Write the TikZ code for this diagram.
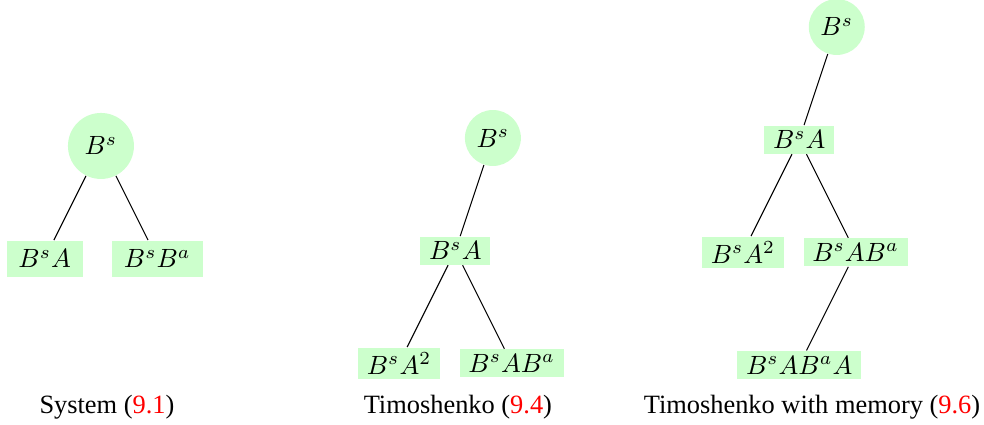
\documentclass[tikz,border=0pt]{standalone}
\usepackage[no-math]{fontspec}
\setmainfont{Liberation Serif}
\usetikzlibrary{positioning}
\begin{document}
\begin{tikzpicture}[node distance = 1.5cm and 0.75cm, on grid,
	root/.style={circle, fill=green!20, minimum size=21.2pt, inner sep=0pt},
	leaf/.style={rectangle, fill=green!20, inner xsep=3.3pt, inner ysep=1.9pt},
	bigroot/.style={root, minimum size=25pt},
	bigleaf/.style={leaf, inner xsep=4.5pt, inner ysep=3.4pt},
	caption/.style={anchor=base}]
	\useasboundingbox (0,0) rectangle (13.1,-5.657);
	% Place nodes
	\node [bigroot] (r1) at (1.344,-1.943) {$B^s$};
	\node [bigleaf, below left=of r1] (a1) {$B^sA$};
	\node [bigleaf, below right=of r1] (b1) {$B^sB^a$};
	\node [root] (r2) at (6.562,-1.837) {$B^s$};
	\node [leaf, below left=1.5cm and 0.5cm of r2] (a2) {$B^sA$};
	\node [leaf, below left=of a2] (b2) {$B^sA^2$};
	\node [leaf, below right=of a2] (c2) {$B^sAB^a$};
	\node [root] (r3) at (11.14,-0.359) {$B^s$};
	\node [leaf, below left=1.5cm and 0.5cm of r3] (a3) {$B^sA$};
	\node [leaf, below left=of a3] (b3) {$B^sA^2$};
	\node [leaf, below right=of a3] (c3) {$B^sAB^a$};
	\node [leaf, below left=of c3] (d3) {$B^sAB^aA$};
	% Captions
	\node [caption] (cap1) at (1.424,-5.51) {System (\textcolor{red}{9.1})};
	\node [caption] (cap2) at (6.096,-5.51) {Timoshenko (\textcolor{red}{9.4})};
	\node [caption] (cap3) at (10.81,-5.51) {Timoshenko with memory (\textcolor{red}{9.6})};
	% Edges
	\draw (r1) -- (a1);
	\draw (r1) -- (b1);
	\draw (r2) -- (a2);
	\draw (a2) -- (b2);
	\draw (a2) -- (c2);
	\draw (r3) -- (a3);
	\draw (a3) -- (b3);
	\draw (a3) -- (c3);
	\draw (c3) -- (d3);
\end{tikzpicture}
\end{document}
